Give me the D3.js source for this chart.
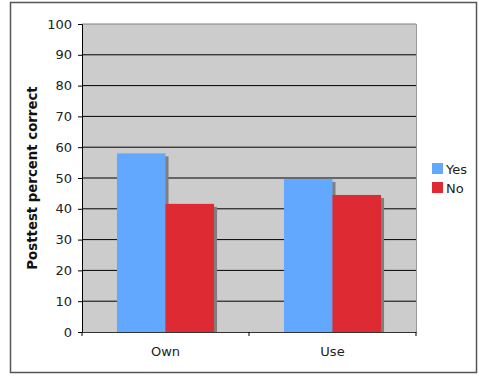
<!DOCTYPE html>
<html>
<head>
<meta charset="utf-8">
<script src="https://cdn.jsdelivr.net/npm/d3@7"></script>
<style>
  html, body { margin: 0; padding: 0; background: #fff; }
  svg { display: block; }
  text { font-family: "DejaVu Sans", Verdana, sans-serif; }
</style>
</head>
<body>
<svg id="chart" width="479" height="377"></svg>
<script>
// Posttest scores grouped by whether the student owns / uses the item
const categories = ["Own", "Use"];
const seriesNames = ["Yes", "No"];
const yesValues = [58, 49.7];
const noValues = [41.6, 44.5];
const yTicks = [0, 10, 20, 30, 40, 50, 60, 70, 80, 90, 100];
const colors = { Yes: "#63a8ff", No: "#de2b33" };

const svg = d3.select("#chart");

// outer frame
svg.append("rect")
  .attr("x", 10.5).attr("y", 2.5)
  .attr("width", 466).attr("height", 370)
  .attr("fill", "#fff").attr("stroke", "#555").attr("stroke-width", 1.5);

const plot = { left: 82, top: 24, right: 416, bottom: 332 };

const x = d3.scaleBand()
  .domain(categories)
  .range([plot.left, plot.right]);

const x1 = d3.scaleBand()
  .domain(seriesNames)
  .range([0, x.bandwidth()])
  .paddingOuter(0.72)
  .paddingInner(0);

const y = d3.scaleLinear()
  .domain([0, 100])
  .range([plot.bottom, plot.top]);

// plot background
svg.append("rect")
  .attr("x", plot.left).attr("y", plot.top)
  .attr("width", plot.right - plot.left).attr("height", plot.bottom - plot.top)
  .attr("fill", "#cccccc");

// gridlines
svg.append("g")
  .selectAll("line")
  .data(yTicks.filter(d => d > 0))
  .join("line")
  .attr("x1", plot.left).attr("x2", plot.right)
  .attr("y1", d => y(d)).attr("y2", d => y(d))
  .attr("stroke", d => d === 100 ? "#808080" : "#000")
  .attr("stroke-width", 1);

// plot right border
svg.append("line")
  .attr("x1", plot.right + 0.5).attr("x2", plot.right + 0.5)
  .attr("y1", plot.top).attr("y2", plot.bottom)
  .attr("stroke", "#999");

const data = categories.map((c, i) => ({
  category: c,
  values: [
    { key: "Yes", value: yesValues[i] },
    { key: "No", value: noValues[i] }
  ]
}));

const groups = svg.append("g")
  .selectAll("g")
  .data(data)
  .join("g")
  .attr("transform", d => `translate(${x(d.category)},0)`);

// each bar draws its drop shadow first, then the bar itself
groups.each(function(d) {
  const g = d3.select(this);
  d.values.forEach(v => {
    g.append("rect")
      .attr("x", x1(v.key) + 3)
      .attr("y", y(v.value) + 3)
      .attr("width", x1.bandwidth())
      .attr("height", plot.bottom - y(v.value) - 3)
      .attr("fill", "#7f7f7f");
    g.append("rect")
      .attr("x", x1(v.key))
      .attr("y", y(v.value))
      .attr("width", x1.bandwidth())
      .attr("height", plot.bottom - y(v.value))
      .attr("fill", colors[v.key]);
  });
});

// y axis
const yAxis = svg.append("g")
  .attr("transform", `translate(${plot.left},0)`)
  .call(d3.axisLeft(y).tickValues(yTicks).tickSize(4).tickPadding(6));
yAxis.select(".domain").attr("stroke", "#000");
yAxis.selectAll(".tick line").attr("stroke", "#000");
yAxis.selectAll(".tick text")
  .attr("fill", "#222")
  .style("font-size", "13px");

// x axis
const xAxis = svg.append("g")
  .attr("transform", `translate(0,${plot.bottom})`)
  .call(d3.axisBottom(x).tickSize(0).tickPadding(15));
xAxis.select(".domain").attr("stroke", "#333").attr("stroke-width", 1.2);
xAxis.selectAll(".tick text")
  .attr("fill", "#222")
  .style("font-size", "13px");

// category separators below the axis
svg.append("g")
  .selectAll("line")
  .data([plot.left, x("Use"), plot.right])
  .join("line")
  .attr("x1", d => d).attr("x2", d => d)
  .attr("y1", plot.bottom).attr("y2", plot.bottom + 4)
  .attr("stroke", "#000");

// y axis title
svg.append("text")
  .attr("transform", `translate(37,${(plot.top + plot.bottom) / 2}) rotate(-90)`)
  .attr("text-anchor", "middle")
  .attr("font-weight", "bold")
  .style("font-size", "13.3px")
  .attr("fill", "#111")
  .text("Posttest percent correct");

// legend
const legend = svg.append("g")
  .selectAll("g")
  .data(seriesNames)
  .join("g")
  .attr("transform", (d, i) => `translate(432,${163 + i * 19})`);
legend.append("rect")
  .attr("width", 11).attr("height", 11)
  .attr("fill", d => colors[d]);
legend.append("text")
  .attr("x", 14).attr("y", 10.5)
  .style("font-size", "13px")
  .attr("fill", "#222")
  .text(d => d);
</script>
</body>
</html>
